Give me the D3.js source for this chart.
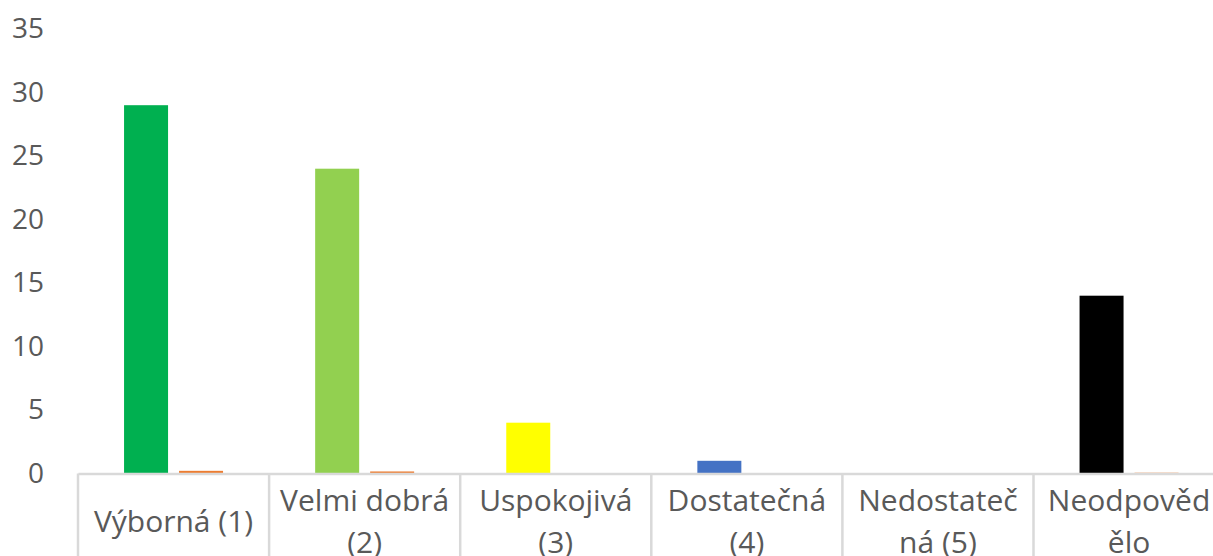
<!DOCTYPE html>
<html lang="cs">
<head>
<meta charset="utf-8">
<script src="https://cdn.jsdelivr.net/npm/d3@7"></script>
<style>
  html, body { margin: 0; padding: 0; background: #ffffff; }
  svg { display: block; }
  text { font-family: "Open Sans", "Noto Sans", sans-serif; fill: #595959; }
</style>
</head>
<body>
<svg id="chart" width="1213" height="556"></svg>
<script>
// Grades given in the survey
const categories = ["Výborná (1)", "Velmi dobrá (2)", "Uspokojivá (3)", "Dostatečná (4)", "Nedostatečná (5)", "Neodpovědělo"];
// Category labels as they wrap under the axis
const categoryLines = [["Výborná (1)"], ["Velmi dobrá", "(2)"], ["Uspokojivá", "(3)"], ["Dostatečná", "(4)"], ["Nedostateč", "ná (5)"], ["Neodpověd", "ělo"]];
// Number of answers per grade
const counts = [29, 24, 4, 1, 0, 14];
const countColors = ["#00B050", "#92D050", "#FFFF00", "#4472C4", "#A5A5A5", "#000000"];
// Second, very small series
const shares = [0.21, 0.16, 0, 0, 0, 0.06];
const shareColor = "#ED7D31";
const yTickValues = [0, 5, 10, 15, 20, 25, 30, 35];

const svg = d3.select("#chart");
const W = 1213, H = 556;
const plotLeft = 78, step = 191.1, base = 473.5, plotTop = 29;

const x0 = d3.scaleBand()
  .domain(categories)
  .range([plotLeft, plotLeft + step * categories.length])
  .padding(0);

const x1 = d3.scaleBand()
  .domain(["count", "share"])
  .range([0, x0.bandwidth()])
  .paddingInner(0.2)
  .paddingOuter(0.8375);

const y = d3.scaleLinear().domain([0, 35]).range([base, plotTop]);

// Value axis: labels only
const yAxis = svg.append("g")
  .attr("transform", `translate(${plotLeft},0)`)
  .call(d3.axisLeft(y).tickValues(yTickValues).tickSize(0).tickPadding(34));
yAxis.select(".domain").remove();
yAxis.selectAll("text")
  .attr("font-size", 28)
  .attr("font-family", "Open Sans, Noto Sans, sans-serif")
  .attr("fill", "#595959");

// Bars
const groups = svg.append("g").selectAll("g")
  .data(categories)
  .join("g")
  .attr("transform", d => `translate(${x0(d)},0)`);

groups.append("rect")
  .attr("x", x1("count"))
  .attr("width", x1.bandwidth())
  .attr("y", (d, i) => y(counts[i]))
  .attr("height", (d, i) => y(0) - y(counts[i]))
  .attr("fill", (d, i) => countColors[i]);

groups.append("rect")
  .attr("x", x1("share"))
  .attr("width", x1.bandwidth())
  .attr("y", (d, i) => y(shares[i]))
  .attr("height", (d, i) => y(0) - y(shares[i]))
  .attr("fill", shareColor);

// Category axis line
const xAxis = svg.append("g")
  .attr("transform", `translate(0,${base})`)
  .call(d3.axisBottom(x0).tickSize(0).tickFormat(""));
xAxis.select(".domain")
  .attr("stroke", "#D9D9D9")
  .attr("stroke-width", 2.5);

// Dividers between category labels
const edges = categories.map(c => x0(c)).concat([x0(categories[categories.length - 1]) + x0.bandwidth()]);
svg.append("g").selectAll("line")
  .data(edges)
  .join("line")
  .attr("x1", d => d).attr("x2", d => d)
  .attr("y1", base).attr("y2", H)
  .attr("stroke", "#D9D9D9")
  .attr("stroke-width", 2.5);

// Category labels
const labelCenter = 520, lineGap = 42;
const labels = svg.append("g").selectAll("text")
  .data(categories)
  .join("text")
  .attr("x", d => x0(d) + x0.bandwidth() / 2)
  .attr("text-anchor", "middle")
  .attr("font-size", 30);

labels.each(function(d, i) {
  const lines = categoryLines[i];
  const first = labelCenter - (lines.length - 1) * lineGap / 2;
  d3.select(this).selectAll("tspan")
    .data(lines)
    .join("tspan")
    .attr("x", x0(d) + x0.bandwidth() / 2)
    .attr("y", (l, j) => first + j * lineGap)
    .attr("dominant-baseline", "central")
    .text(l => l);
});
</script>
</body>
</html>
